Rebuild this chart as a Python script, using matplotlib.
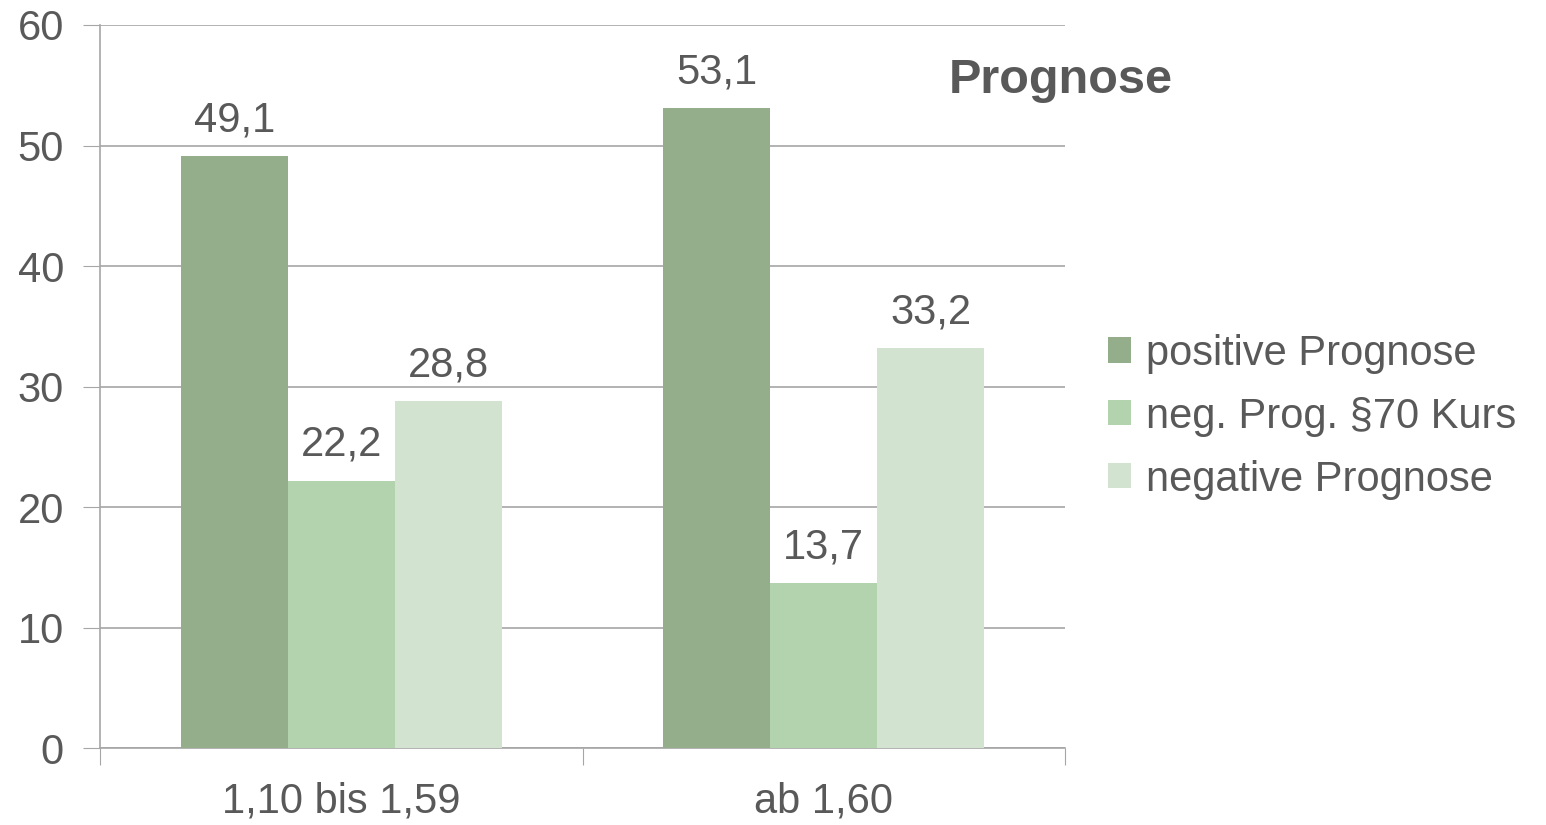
import numpy as np
import matplotlib.pyplot as plt
from matplotlib.patches import Patch

categories = ["1,10 bis 1,59", "ab 1,60"]
series_names = ["positive Prognose", "neg. Prog. §70 Kurs", "negative Prognose"]
positive = [49.1, 53.1]
neg_kurs = [22.2, 13.7]
negative = [28.8, 33.2]
colors = ["#94AE8C", "#B3D3AE", "#D2E4CF"]

plt.rcParams['font.family'] = ['Liberation Sans', 'DejaVu Sans']
txt = "#595959"
grid = "#A6A6A6"
fs = 30

fig = plt.figure(figsize=(15.46, 8.25), dpi=100)
ax = fig.add_axes([0.0647, 0.0933, 0.6242, 0.8764])

x = np.arange(len(categories))
w = 0.222
for i, vals in enumerate([positive, neg_kurs, negative]):
    bars = ax.bar(x + (i - 1) * w, vals, w, color=colors[i], zorder=3)
    for b, v in zip(bars, vals):
        ax.text(b.get_x() + b.get_width() / 2, v + 1.3, f"{v:.1f}".replace(".", ","),
                ha="center", va="bottom", fontsize=fs, color=txt)

ax.set_xlim(-0.5, 1.5)
ax.set_ylim(0, 60)
ax.set_yticks(range(0, 61, 10))
ax.yaxis.grid(True, color=grid, linewidth=1.2, zorder=0)
ax.set_axisbelow(True)
ax.tick_params(axis="y", length=12, color=grid, labelsize=fs, labelcolor=txt, pad=14)
ax.set_xticks([-0.5, 0.5, 1.5])
ax.set_xticklabels([])
ax.set_xticks(x, minor=True)
ax.set_xticklabels(categories, minor=True)
ax.tick_params(axis="x", which="major", length=12, color=grid)
ax.tick_params(axis="x", which="minor", length=0, labelsize=fs, labelcolor=txt, pad=24)
for s in ["top", "right"]:
    ax.spines[s].set_visible(False)
for s in ["left", "bottom"]:
    ax.spines[s].set_color(grid)
    ax.spines[s].set_linewidth(1.2)

fig.text(0.686, 0.903, "Prognose", fontsize=35, fontweight="bold", color=txt,
         ha="center", va="center")

handles = [Patch(facecolor=c, edgecolor="none") for c in colors]
fig.legend(handles, series_names, loc="center left", bbox_to_anchor=(0.717, 0.495),
           frameon=False, fontsize=fs, labelcolor=txt, handlelength=0.55,
           handleheight=0.55, handletextpad=0.35, labelspacing=0.55,
           borderpad=0, borderaxespad=0)

fig.savefig("out.png", dpi=100)
